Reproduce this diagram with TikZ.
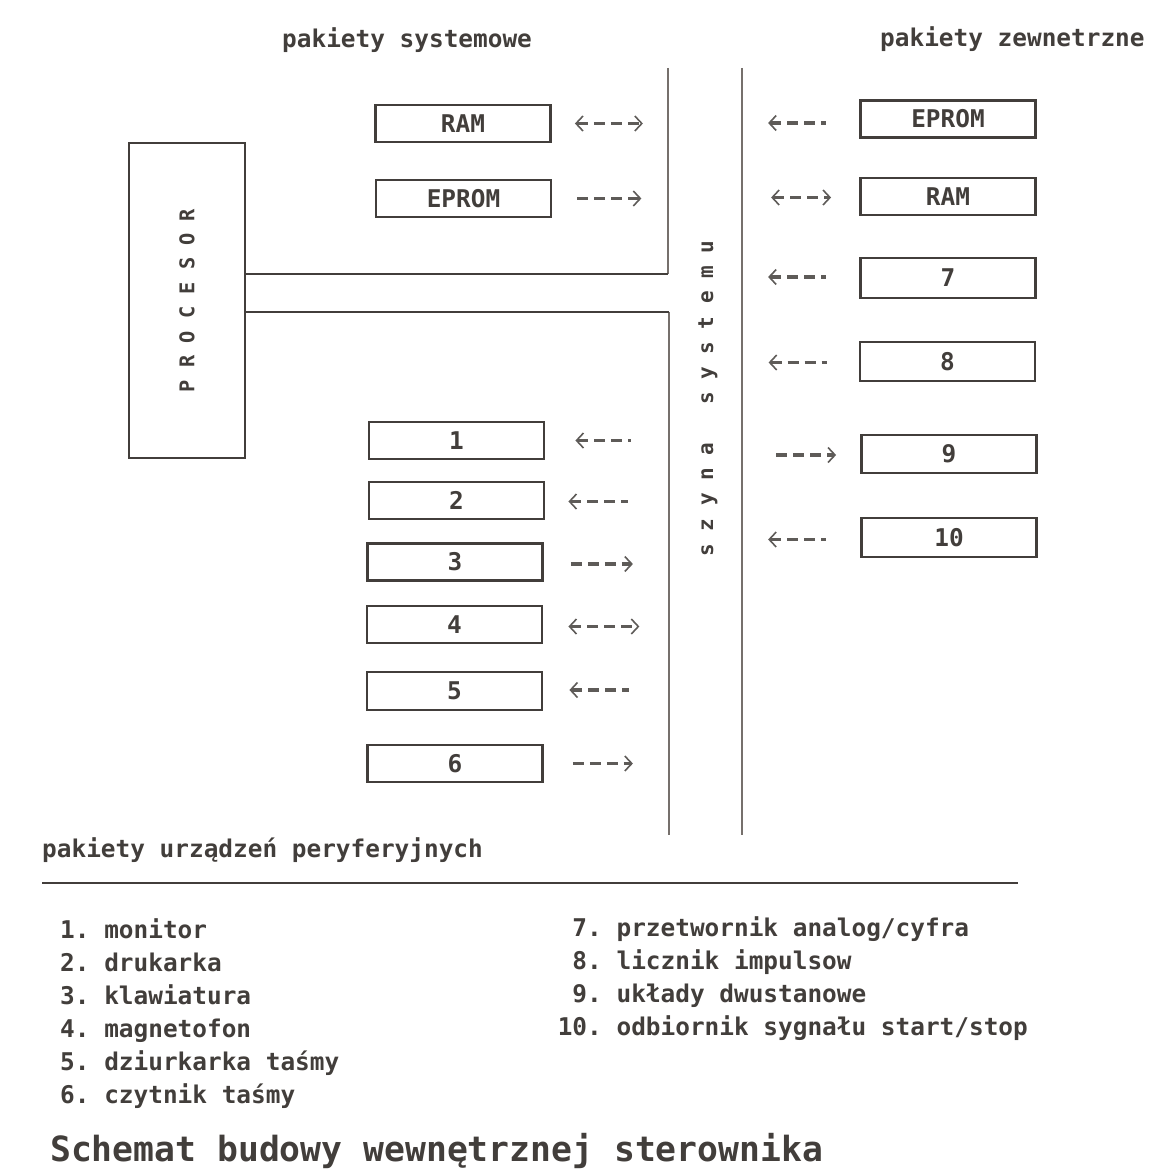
\documentclass[tikz,border=0pt]{standalone}
\usepackage{fontspec}
\setmonofont{DejaVu Sans Mono}
\usetikzlibrary{arrows.meta,calc}
\definecolor{ink}{RGB}{66,62,59}
\definecolor{busgrey}{RGB}{118,112,108}
\begin{document}
\begin{tikzpicture}[x=1pt,y=-1pt,
  txt/.style={text=ink, inner sep=0pt, font=\ttfamily\bfseries\fontsize{24.4}{28}\selectfont},
  lbl/.style={txt, anchor=base west},
  box/.style={draw=ink, line width=2.8pt, inner sep=0pt, minimum width=175pt, minimum height=37pt, txt},
  wire/.style={draw=ink, line width=2.8pt},
  busline/.style={draw=busgrey, line width=2.4pt},
  darr/.style={draw=ink!85, line width=3.6pt, dash pattern=on 11pt off 6pt,
    >={Straight Barb[length=7pt,width=15pt,line width=1.6pt]}},
  vch/.style={txt, rotate=90, anchor=base, font=\ttfamily\bfseries\fontsize{21}{24}\selectfont}
]
\useasboundingbox (0,0) rectangle (1170,1172);

% headings
\node[lbl] (hsys) at (282,48) {pakiety systemowe};
\node[lbl] (hzew) at (880,47) {pakiety zewnetrzne};

% processor
\node[draw=ink, line width=2.8pt, minimum width=116pt, minimum height=315pt, inner sep=0pt] (proc) at (187,300.5) {};
\node[txt, rotate=90, font=\ttfamily\bfseries\fontsize{20.3}{24}\selectfont] (proclbl) at (proc.center) {P R O C E S O R};

% bus lines
\coordinate (bLtop) at (668,68);
\coordinate (bLjoin) at (668,274);
\coordinate (bLlow) at (669,312);
\coordinate (bLbot) at (669,835);
\coordinate (bRtop) at (742,68);
\coordinate (bRbot) at (742,835);
\draw[busline] (bLtop) -- (bLjoin);
\draw[busline] (bLlow) -- (bLbot);
\draw[busline] (bRtop) -- (bRbot);
\draw[wire] (proc.east |- bLjoin) -- (bLjoin);
\draw[wire] (proc.east |- bLlow) -- (bLlow);

% bus label "szyna systemu"
\foreach \c/\i in {s/0,z/1,y/2,n/3,a/4,s/6,y/7,s/8,t/9,e/10,m/11,u/12}
  \node[vch] (sz\i) at (713,{550-25.25*\i}) {\c};

% system packages
\node[box] (ramL) at (463,123.5) {RAM};
\node[box] (epromL) at (463.5,198.5) {EPROM};
\draw[darr,<->] ($(ramL.east)+(23,0)$) -- ($(ramL.east)+(91,0)$);
\draw[darr,->] ($(epromL.east)+(25,0)$) -- ($(epromL.east)+(89,0)$);

% external packages
\node[box] (epromR) at (948,119) {EPROM};
\node[box] (ramR) at (948,196.5) {RAM};
\node[box, minimum height=40pt] (p7) at (948,278) {7};
\node[box, minimum height=39pt] (p8) at (947.5,361.5) {8};
\node[box, minimum height=38pt] (p9) at (949,454) {9};
\node[box, minimum height=39pt] (p10) at (949,537.5) {10};
\draw[darr,<-] ($(epromR.west)+(-91,4)$) -- ($(epromR.west)+(-33,4)$);
\draw[darr,<->] ($(ramR.west)+(-88,1)$) -- ($(ramR.west)+(-28,1)$);
\draw[darr,<-] ($(p7.west)+(-91,-1)$) -- ($(p7.west)+(-33,-1)$);
\draw[darr,<-] ($(p8.west)+(-90,1)$) -- ($(p8.west)+(-32,1)$);
\draw[darr,->] ($(p9.west)+(-84,1)$) -- ($(p9.west)+(-24,1)$);
\draw[darr,<-] ($(p10.west)+(-92,2)$) -- ($(p10.west)+(-34,2)$);

% peripheral packages
\node[box] (d1) at (456.5,440.5) {1};
\node[box] (d2) at (456.5,500.5) {2};
\node[box] (d3) at (455,562) {3};
\node[box] (d4) at (454.5,624.5) {4};
\node[box, minimum height=38pt] (d5) at (454.5,691) {5};
\node[box] (d6) at (455,763.5) {6};
\draw[darr,<-] ($(d1.east)+(30,0)$) -- ($(d1.east)+(86,0)$);
\draw[darr,<-] ($(d2.east)+(23,1)$) -- ($(d2.east)+(83,1)$);
\draw[darr,->] ($(d3.east)+(27,2)$) -- ($(d3.east)+(89,2)$);
\draw[darr,<->] ($(d4.east)+(25,2)$) -- ($(d4.east)+(96,2)$);
\draw[darr,<-] ($(d5.east)+(26,-1)$) -- ($(d5.east)+(86,-1)$);
\draw[darr,->] ($(d6.east)+(29,0)$) -- ($(d6.east)+(89,0)$);

\node[lbl] (hper) at (42,857) {pakiety urządzeń peryferyjnych};
\coordinate (ruleL) at (42,883);
\coordinate (ruleR) at (1018,883);
\draw[draw=ink, line width=2pt] (ruleL) -- (ruleR);

% legend
\node[lbl] (l1) at (60,938) {1. monitor};
\node[lbl] (l2) at (60,971) {2. drukarka};
\node[lbl] (l3) at (60,1004) {3. klawiatura};
\node[lbl] (l4) at (60,1037) {4. magnetofon};
\node[lbl] (l5) at (60,1070) {5. dziurkarka taśmy};
\node[lbl] (l6) at (60,1103) {6. czytnik taśmy};
\node[lbl] (l7) at (557.6,936) {\phantom{1}7. przetwornik analog/cyfra};
\node[lbl] (l8) at (557.6,969) {\phantom{1}8. licznik impulsow};
\node[lbl] (l9) at (557.6,1002) {\phantom{1}9. układy dwustanowe};
\node[lbl] (l10) at (557.6,1035) {10. odbiornik sygnału start/stop};

\node[lbl, font=\ttfamily\bfseries\fontsize{34.7}{40}\selectfont] (title) at (50,1161) {Schemat budowy wewnętrznej sterownika};
\end{tikzpicture}
\end{document}
